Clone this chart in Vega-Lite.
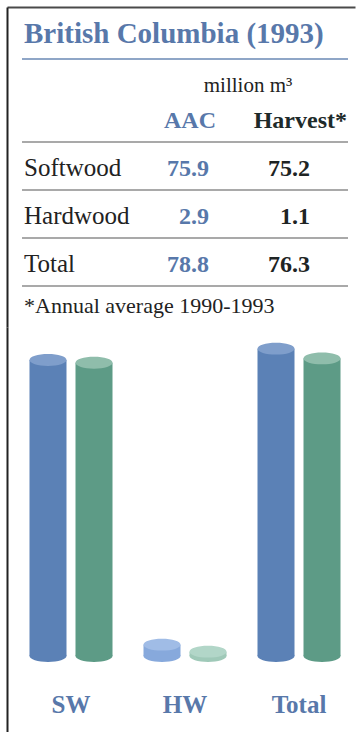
{
  "$schema": "https://vega.github.io/schema/vega-lite/v6.json",
  "background": "white",
  "padding": {"left": 7, "top": 7, "right": 4, "bottom": 0},
  "spacing": 0,
  "config": {
    "view": {"stroke": null},
    "font": "Liberation Serif",
    "axis": {"grid": false, "ticks": false, "labels": false, "domainWidth": 2}
  },
  "datasets": {
    "wood": [
      {"row": "Softwood", "cat": "SW", "AAC": 75.9, "Harvest": 75.2},
      {"row": "Hardwood", "cat": "HW", "AAC": 2.9, "Harvest": 1.1},
      {"row": "Total", "cat": "Total", "AAC": 78.8, "Harvest": 76.3}
    ]
  },
  "vconcat": [
    {
      "width": 348,
      "height": 320,
      "layer": [
        {
          "data": {"values": [{"label": "British Columbia (1993)"}]},
          "mark": {"type": "text", "font": "Liberation Serif", "align": "left", "baseline": "alphabetic", "dx": 2, "dy": 11, "fontSize": 29, "fontWeight": "bold", "color": "#5878aa"},
          "encoding": {
            "x": {"datum": "name", "type": "nominal",
                  "scale": {"type": "point", "domain": ["name", "AAC", "Harvest"], "padding": 0.0675, "align": 0.682},
                  "axis": {"orient": "top", "domain": true, "domainColor": "#4a4a4a", "title": null}},
            "y": {"datum": "title", "type": "nominal",
                  "scale": {"type": "point", "domain": ["title", "unit", "head", "Softwood", "Hardwood", "Total", "note"], "padding": 0.3333, "align": 0.78125},
                  "axis": {"orient": "left", "domain": true, "domainColor": "#222222", "title": null}},
            "text": {"field": "label"}
          }
        },
        {
          "data": {"values": [{}]},
          "mark": {"type": "rule", "yOffset": 27, "color": "#6a88b4", "strokeWidth": 1.5},
          "encoding": {
            "x": {"datum": "name", "type": "nominal"},
            "x2": {"datum": "Harvest"},
            "y": {"datum": "title", "type": "nominal"}
          }
        },
        {
          "data": {"values": [{"label": "million m³"}]},
          "mark": {"type": "text", "font": "Liberation Serif", "align": "center", "baseline": "alphabetic", "dx": 63, "dy": 12, "fontSize": 21, "color": "#222222"},
          "encoding": {
            "x": {"datum": "AAC", "type": "nominal"},
            "y": {"datum": "unit", "type": "nominal"},
            "text": {"field": "label"}
          }
        },
        {
          "data": {"values": [{"label": "AAC"}]},
          "mark": {"type": "text", "font": "Liberation Serif", "align": "center", "baseline": "alphabetic", "dx": 5, "fontSize": 24, "fontWeight": "bold", "color": "#5878aa"},
          "encoding": {
            "x": {"datum": "AAC", "type": "nominal"},
            "y": {"datum": "head", "type": "nominal"},
            "text": {"field": "label"}
          }
        },
        {
          "data": {"values": [{"label": "Harvest*"}]},
          "mark": {"type": "text", "font": "Liberation Serif", "align": "right", "baseline": "alphabetic", "dx": -1, "fontSize": 24, "fontWeight": "bold", "color": "#1e2a2a"},
          "encoding": {
            "x": {"datum": "Harvest", "type": "nominal"},
            "y": {"datum": "head", "type": "nominal"},
            "text": {"field": "label"}
          }
        },
        {
          "data": {"values": [{}]},
          "mark": {"type": "rule", "yOffset": 14, "color": "#555555", "strokeWidth": 1.2},
          "encoding": {
            "x": {"datum": "name", "type": "nominal"},
            "x2": {"datum": "Harvest"},
            "y": {"datum": "head", "type": "nominal"}
          }
        },
        {
          "data": {"name": "wood"},
          "mark": {"type": "text", "font": "Liberation Serif", "align": "left", "baseline": "alphabetic", "dx": 2, "fontSize": 25, "color": "#222222"},
          "encoding": {
            "x": {"datum": "name", "type": "nominal"},
            "y": {"field": "row", "type": "nominal"},
            "text": {"field": "row"}
          }
        },
        {
          "data": {"name": "wood"},
          "mark": {"type": "text", "font": "Liberation Serif", "align": "right", "baseline": "alphabetic", "dx": 24, "fontSize": 24, "fontWeight": "bold", "color": "#5878aa"},
          "encoding": {
            "x": {"datum": "AAC", "type": "nominal"},
            "y": {"field": "row", "type": "nominal"},
            "text": {"field": "AAC", "type": "quantitative", "format": ".1f"}
          }
        },
        {
          "data": {"name": "wood"},
          "mark": {"type": "text", "font": "Liberation Serif", "align": "right", "baseline": "alphabetic", "dx": -38, "fontSize": 24, "fontWeight": "bold", "color": "#1e2424"},
          "encoding": {
            "x": {"datum": "Harvest", "type": "nominal"},
            "y": {"field": "row", "type": "nominal"},
            "text": {"field": "Harvest", "type": "quantitative", "format": ".1f"}
          }
        },
        {
          "data": {"name": "wood"},
          "mark": {"type": "rule", "yOffset": 14, "color": "#555555", "strokeWidth": 1.2},
          "encoding": {
            "x": {"datum": "name", "type": "nominal"},
            "x2": {"datum": "Harvest"},
            "y": {"field": "row", "type": "nominal"}
          }
        },
        {
          "data": {"values": [{"label": "*Annual average 1990-1993"}]},
          "mark": {"type": "text", "font": "Liberation Serif", "align": "left", "baseline": "alphabetic", "dx": 2, "dy": -7, "fontSize": 22, "color": "#222222"},
          "encoding": {
            "x": {"datum": "name", "type": "nominal"},
            "y": {"datum": "note", "type": "nominal"},
            "text": {"field": "label"}
          }
        }
      ]
    },
    {
      "width": 348,
      "height": 405,
      "data": {"name": "wood"},
      "transform": [{"fold": ["AAC", "Harvest"], "as": ["series", "value"]}],
      "encoding": {
        "x": {"field": "cat", "type": "nominal", "sort": ["SW", "HW", "Total"],
              "scale": {"paddingInner": 0.2, "paddingOuter": 0.1263, "align": 0.639},
              "axis": {"orient": "bottom", "offset": -20, "domain": false, "labels": true, "labelAngle": 0,
                       "labelFont": "Liberation Serif", "labelFontSize": 25, "labelFontWeight": "bold",
                       "labelColor": "#5878aa", "labelPadding": 0, "labelBaseline": "alphabetic", "title": null}},
        "xOffset": {"field": "series", "type": "nominal", "sort": ["AAC", "Harvest"],
                    "scale": {"paddingInner": 0.1957, "paddingOuter": 0.089}}
      },
      "layer": [
        {
          "mark": {"type": "point", "filled": true, "strokeWidth": 0, "size": 1369, "opacity": 1,
                   "shape": "M-1,0C-1,-0.1767,-0.5523,-0.32,0,-0.32C0.5523,-0.32,1,-0.1767,1,0C1,0.1767,0.5523,0.32,0,0.32C-0.5523,0.32,-1,0.1767,-1,0Z"},
          "encoding": {
            "y": {"datum": 0, "type": "quantitative",
                  "scale": {"domain": [-19.49, 84.36], "nice": false},
                  "axis": {"orient": "left", "domain": true, "domainColor": "#222222", "title": null}},
            "color": {
              "condition": [
                {"test": "datum.cat === 'HW' && datum.series === 'AAC'", "value": "#87a9dc"},
                {"test": "datum.cat === 'HW'", "value": "#9fc9b8"}
              ],
              "field": "series", "type": "nominal",
              "scale": {"domain": ["AAC", "Harvest"], "range": ["#5b81b6", "#5d9b86"]}, "legend": null}
          }
        },
        {
          "mark": {"type": "bar"},
          "encoding": {
            "y": {"field": "value", "type": "quantitative"},
            "y2": {"datum": 0},
            "color": {
              "condition": [
                {"test": "datum.cat === 'HW' && datum.series === 'AAC'", "value": "#87a9dc"},
                {"test": "datum.cat === 'HW'", "value": "#9fc9b8"}
              ],
              "field": "series", "type": "nominal", "legend": null}
          }
        },
        {
          "mark": {"type": "point", "filled": true, "strokeWidth": 0, "size": 1369, "opacity": 1,
                   "shape": "M-1,0C-1,-0.1767,-0.5523,-0.32,0,-0.32C0.5523,-0.32,1,-0.1767,1,0C1,0.1767,0.5523,0.32,0,0.32C-0.5523,0.32,-1,0.1767,-1,0Z"},
          "encoding": {
            "y": {"field": "value", "type": "quantitative"},
            "fill": {
              "condition": [
                {"test": "datum.cat === 'HW' && datum.series === 'AAC'", "value": "#a0bce6"},
                {"test": "datum.cat === 'HW'", "value": "#b2d6c8"}
              ],
              "field": "series", "type": "nominal",
              "scale": {"domain": ["AAC", "Harvest"], "range": ["#7f9ecb", "#8fbdab"]}, "legend": null}
          }
        }
      ]
    }
  ]
}
